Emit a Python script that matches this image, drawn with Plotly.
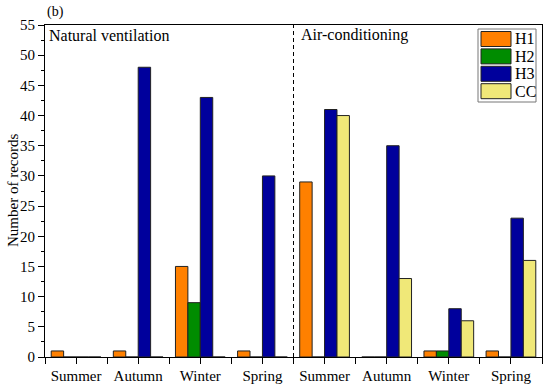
import plotly.graph_objects as go

seasons = ["Summer", "Autumn", "Winter", "Spring", "Summer", "Autumn", "Winter", "Spring"]
groups = ["Natural ventilation", "Air-conditioning"]
H1 = [1, 1, 15, 1, 29, 0, 1, 1]
H2 = [0, 0, 9, 0, 0, 0, 1, 0]
H3 = [0, 48, 43, 30, 41, 35, 8, 23]
CC = [0, 0, 0, 0, 40, 13, 6, 16]
series = [("H1", H1, "#FF8000"), ("H2", H2, "#008C00"), ("H3", H3, "#00009C"), ("CC", CC, "#F0E878")]

xpos = list(range(len(seasons)))
font = "'Liberation Serif', 'Times New Roman', Times, serif"

fig = go.Figure()
for name, vals, col in series:
    fig.add_trace(go.Bar(x=xpos, y=vals, name=name, showlegend=False,
                         marker=dict(color=col, line=dict(color="#222222", width=1))))

L, R, T, B = 45, 8, 25, 30
W, H = 550, 387
pw, ph = W - L - R, H - T - B

def px(x):
    return (x - L) / pw

def py(y):
    return (H - B - y) / ph

fig.update_layout(
    width=W, height=H,
    margin=dict(l=L, r=R, t=T, b=B, autoexpand=False),
    paper_bgcolor="white", plot_bgcolor="white",
    barmode="group", bargap=0.2, bargroupgap=0,
    font=dict(family=font, size=14, color="black"),
    showlegend=False,
)
fig.update_xaxes(range=[-0.5, 7.5], tickmode="array", tickvals=xpos, ticktext=seasons,
                 ticks="outside", ticklen=6, tickwidth=1, tickcolor="black",
                 minor=dict(ticks="outside", ticklen=6, tickwidth=1, tickcolor="black", dtick=0.5, tick0=-0.5),
                 showline=True, linecolor="black", linewidth=1, mirror=True, showgrid=False,
                 zeroline=False, tickfont=dict(size=15, family=font), ticklabelstandoff=-1)
fig.update_yaxes(range=[0, 55], dtick=5, ticks="outside", ticklen=6, tickwidth=1, tickcolor="black",
                 minor=dict(ticks="outside", ticklen=3, tickwidth=1, tickcolor="black", dtick=2.5),
                 showline=True, linecolor="black", linewidth=1, mirror=True, showgrid=False,
                 zeroline=False, tickfont=dict(size=15, family=font))

fig.add_annotation(text="Number of records", xref="paper", yref="paper", x=px(13), y=0.5,
                   textangle=-90, xanchor="center", yanchor="middle", showarrow=False,
                   font=dict(size=15, family=font))
fig.add_shape(type="line", xref="x", yref="paper", x0=3.5, x1=3.5, y0=0, y1=1,
              line=dict(color="black", width=1, dash="4px,3px"))
fig.add_annotation(text=groups[0], xref="paper", yref="paper", x=px(47), y=py(35),
                   xanchor="left", yanchor="middle", showarrow=False, font=dict(size=16, family=font))
fig.add_annotation(text=groups[1], xref="paper", yref="paper", x=px(299), y=py(35),
                   xanchor="left", yanchor="middle", showarrow=False, font=dict(size=16, family=font))
fig.add_annotation(text="(b)", xref="paper", yref="paper", x=px(45), y=py(12),
                   xanchor="left", yanchor="middle", showarrow=False, font=dict(size=14, family=font))

# legend box
fig.add_shape(type="rect", xref="paper", yref="paper", x0=px(478), x1=px(536), y0=py(102), y1=py(29),
              line=dict(color="#777777", width=1), fillcolor="white", layer="above")
for i, (name, vals, col) in enumerate(series):
    top = 31.5 + 17.4 * i
    fig.add_shape(type="rect", xref="paper", yref="paper", x0=px(481), x1=px(511), y0=py(top + 15), y1=py(top),
                  line=dict(color="#222222", width=1), fillcolor=col, layer="above")
    fig.add_annotation(text=name, xref="paper", yref="paper", x=px(513), y=py(top + 7.5),
                       xanchor="left", yanchor="middle", showarrow=False, font=dict(size=16, family=font))

fig.write_html("out.html", config={"displayModeBar": False},
               post_script="document.body.style.margin='0';")
